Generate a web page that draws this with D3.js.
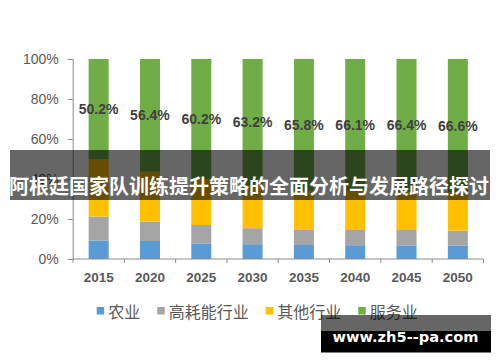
<!DOCTYPE html>
<html><head><meta charset="utf-8">
<script src="https://cdn.jsdelivr.net/npm/d3@7"></script>
<style>body{margin:0;background:#fff}svg{display:block}</style>
</head><body>
<svg id="c" width="500" height="362"></svg>
<script>
const years = ["2015","2020","2025","2030","2035","2040","2045","2050"];
const agriculture = [9.2, 9.0, 7.8, 7.4, 7.0, 6.9, 6.8, 6.7];
const heavyIndustry = [12.0, 9.7, 9.2, 8.0, 7.5, 7.6, 7.7, 7.5];
const otherIndustry = [28.6, 24.9, 22.8, 21.4, 19.7, 19.4, 19.1, 19.2];
const services = [50.2, 56.4, 60.2, 63.2, 65.8, 66.1, 66.4, 66.6];
const seriesNames = ["农业","高耗能行业","其他行业","服务业"];
const seriesColors = ["#5B9BD5","#A5A5A5","#FFC000","#70AD47"];
const yTicks = [0, 20, 40, 60, 80, 100];
const title = "阿根廷国家队训练提升策略的全面分析与发展路径探讨";
const watermark = "www.zh5--pa.com";

const svg = d3.select("#c");
const rows = years.map((y,i)=>({year:y, "农业":agriculture[i], "高耗能行业":heavyIndustry[i], "其他行业":otherIndustry[i], "服务业":services[i]}));
const stack = d3.stack().keys(seriesNames)(rows);

const x = d3.scaleBand().domain(years).range([73, 483.5]).paddingInner(0.61).paddingOuter(0.305);
const y = d3.scaleLinear().domain([0,100]).range([259, 59]);
const color = d3.scaleOrdinal().domain(seriesNames).range(seriesColors);

// bars
svg.append("g").selectAll("g").data(stack).join("g")
  .attr("fill", d=>color(d.key))
  .selectAll("rect").data(d=>d).join("rect")
  .attr("x", d=>x(d.data.year))
  .attr("width", x.bandwidth())
  .attr("y", d=>y(d[1]))
  .attr("height", d=>y(d[0])-y(d[1]));

// y axis
const yAxis = svg.append("g").attr("transform","translate(72.7,0)")
  .call(d3.axisLeft(y).tickValues(yTicks).tickSize(5).tickPadding(9).tickFormat(d=>d+"%"));
yAxis.select(".domain").attr("stroke","#8c8c8c");
yAxis.selectAll(".tick line").attr("stroke","#8c8c8c");
yAxis.selectAll("text").attr("fill","#595959").style("font-family","'Liberation Sans', Arial, sans-serif").style("font-size","14px");

// x axis
const xAxis = svg.append("g").attr("transform","translate(0,259)")
  .call(d3.axisBottom(x).tickSize(0).tickPadding(13));
xAxis.select(".domain").attr("stroke","#8c8c8c").attr("d","M72.7,0H483.5");
xAxis.selectAll("text").attr("fill","#595959").style("font-family","'Liberation Sans', Arial, sans-serif").style("font-size","13.5px").style("font-weight","bold");
const step = x.step();
xAxis.selectAll(".bt").data(d3.range(years.length+1)).join("line")
  .attr("x1", i=>73 + i*step).attr("x2", i=>73 + i*step)
  .attr("y1",0).attr("y2",4).attr("stroke","#8c8c8c");

// data labels (services)
const svc = stack[3];
svg.append("g").selectAll("text").data(svc).join("text")
  .attr("x", d=>x(d.data.year)+x.bandwidth()/2)
  .attr("y", d=>(y(d[0])+y(d[1]))/2)
  .attr("text-anchor","middle").attr("dominant-baseline","central")
  .attr("fill","#404040")
  .style("font-family","'Liberation Sans', Arial, sans-serif").style("font-size","14px").style("font-weight","bold")
  .text(d=>d.data["服务业"].toFixed(1)+"%");

// legend
const lg = svg.append("g");
let lx = 96.7;
seriesNames.forEach((n,i)=>{
  lg.append("rect").attr("x",lx).attr("y",307).attr("width",7.5).attr("height",7.5).attr("fill",seriesColors[i]);
  const t = lg.append("text").attr("x",lx+11.5).attr("y",311).attr("dominant-baseline","central")
    .attr("fill","#595959").style("font-family","'Noto Sans CJK SC', sans-serif").style("font-size","16px").text(n);
  lx = lx + 11.5 + t.node().getComputedTextLength() + 17;
});

// title banner
svg.append("rect").attr("x",10).attr("y",150).attr("width",480).attr("height",50).attr("fill","rgba(0,0,0,0.6)");
svg.append("text").attr("x",249).attr("y",185).attr("text-anchor","middle").attr("dominant-baseline","central")
  .attr("fill","#fff").style("font-family","'Noto Sans CJK SC', sans-serif").style("font-size","20px").style("font-weight","bold")
  .text(title);

// watermark
svg.append("rect").attr("x",321).attr("y",315).attr("width",170).attr("height",16).attr("fill","rgba(0,0,0,0.6)");
svg.append("rect").attr("x",321).attr("y",331).attr("width",170).attr("height",21.5).attr("fill","#000");
svg.append("text").attr("x",405.5).attr("y",342).attr("text-anchor","middle")
  .attr("fill","#fff").style("font-family","'DejaVu Sans', sans-serif").style("font-size","14.6px").style("font-weight","bold")
  .text(watermark);
</script>
</body></html>
